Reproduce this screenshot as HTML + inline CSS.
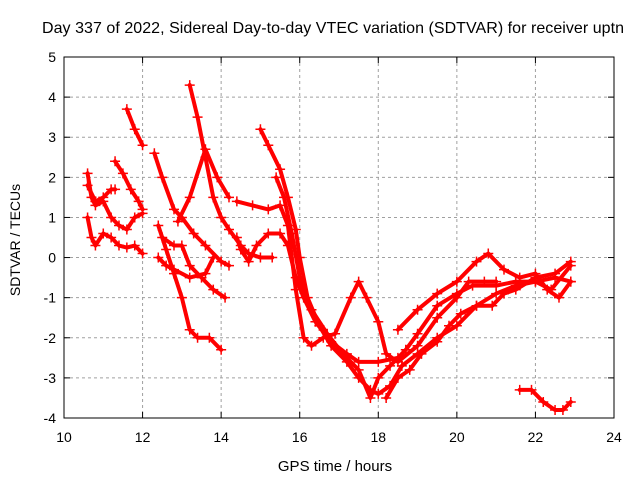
<!DOCTYPE html>
<html><head><meta charset="utf-8"><style>
body{margin:0;background:#fff;}
svg text{font-family:"Liberation Sans",sans-serif;}
</style></head><body>
<svg id="chart" width="640" height="480" xmlns="http://www.w3.org/2000/svg">
<text x="333" y="33" text-anchor="middle" font-size="16" textLength="582">Day 337 of 2022, Sidereal Day-to-day VTEC variation (SDTVAR) for receiver uptn</text>
<text x="335" y="471" text-anchor="middle" font-size="15">GPS time / hours</text>
<text x="20" y="240" text-anchor="middle" font-size="14" transform="rotate(-90 20 240)">SDTVAR / TECUs</text>
<g id="grid"></g><g id="ticks"></g><g id="series"></g>
<rect x="64" y="57" width="550" height="361" fill="none" stroke="#000" stroke-width="1"/>
</svg>
<script>
const xTicks=[10,12,14,16,18,20,22,24];
const yTicks=[-4,-3,-2,-1,0,1,2,3,4,5];
const tA=[[10.6,2.1],[10.7,1.5],[10.8,1.3],[11.0,1.4],[11.2,1.0],[11.4,0.8],[11.6,0.7],[11.8,1.0],[12.0,1.1]];
const tB=[[10.6,1.0],[10.7,0.5],[10.8,0.3],[11.0,0.6],[11.2,0.5],[11.4,0.3],[11.6,0.25],[11.8,0.3],[12.0,0.1]];
const tC=[[10.6,1.8],[10.8,1.4],[11.0,1.5],[11.2,1.7],[11.3,1.7]];
const tD=[[11.3,2.4],[11.5,2.1],[11.7,1.7],[11.9,1.4],[12.0,1.2]];
const tE=[[11.6,3.7],[11.8,3.2],[12.0,2.8]];
const tF=[[12.3,2.6],[12.5,2.0],[12.8,1.2],[13.0,1.0],[13.3,0.6],[13.6,0.3],[14.0,-0.1],[14.2,-0.2]];
const tG=[[12.4,0.8],[12.6,0.2],[12.8,-0.4],[13.0,-1.0],[13.2,-1.8],[13.4,-2.0],[13.7,-2.0],[14.0,-2.3]];
const tH=[[12.4,0.0],[12.6,-0.2],[12.8,-0.3],[13.2,-0.5],[13.6,-0.4],[13.8,0.0]];
const tI=[[12.5,0.5],[12.8,0.3],[13.0,0.3],[13.2,-0.2],[13.5,-0.5],[13.8,-0.8],[14.1,-1.0]];
const tJ=[[13.2,4.3],[13.4,3.5],[13.6,2.5],[13.8,1.5],[14.0,1.0],[14.2,0.7],[14.5,0.3],[14.7,0.1],[15.0,0.0],[15.3,0.0]];
const tK=[[12.9,0.9],[13.2,1.5],[13.6,2.7],[13.9,2.0],[14.2,1.5]];
const tL=[[14.4,0.5],[14.5,0.2],[14.7,-0.1],[14.9,0.3],[15.2,0.6],[15.5,0.6],[15.7,0.3],[15.9,-0.5],[16.1,-1.0],[16.4,-1.6],[16.8,-2.1],[17.2,-2.4],[17.5,-2.6],[18.0,-2.6],[18.5,-2.5]];
const tM=[[14.4,1.4],[14.8,1.3],[15.2,1.2],[15.5,1.3],[15.7,0.8],[15.9,-0.8],[16.1,-2.0],[16.3,-2.2],[16.6,-2.0],[16.9,-1.9],[17.3,-1.0],[17.5,-0.6],[17.7,-1.0],[18.0,-1.6],[18.2,-2.4],[18.5,-2.6],[19.0,-2.2],[19.5,-1.5],[20.0,-1.0],[20.3,-0.6],[20.7,-0.6],[21.0,-0.6]];
const tN=[[15.0,3.2],[15.2,2.8],[15.5,2.2],[15.7,1.5],[15.9,0.7],[16.0,0.0],[16.2,-1.0],[16.5,-1.7],[16.8,-2.2],[17.2,-2.6],[17.5,-3.0],[17.8,-3.3],[18.0,-3.4],[18.3,-3.2],[18.6,-2.7],[19.0,-2.4],[19.5,-2.0],[20.0,-1.7],[20.5,-1.2],[21.0,-0.9],[21.5,-0.7],[22.0,-0.6],[22.5,-0.5],[22.9,-0.6]];
const tO=[[15.4,2.0],[15.6,1.5],[15.8,0.6],[16.0,-0.5],[16.3,-1.3],[16.7,-1.9],[17.1,-2.4],[17.5,-2.8],[17.8,-3.5],[18.0,-3.0],[18.3,-2.7],[18.7,-2.3],[19.0,-1.9],[19.5,-1.2],[20.0,-0.9],[20.4,-0.7],[21.0,-0.7],[21.5,-0.6],[22.0,-0.6],[22.4,-0.8],[22.9,-0.2]];
const tP=[[18.2,-3.5],[18.5,-3.0],[18.8,-2.8],[19.1,-2.4],[19.5,-2.1],[19.8,-1.7],[20.1,-1.4],[20.5,-1.2],[20.9,-1.2],[21.2,-0.9],[21.5,-0.8],[22.0,-0.5],[22.5,-0.4],[22.9,-0.1]];
const tQ=[[18.5,-1.8],[19.0,-1.3],[19.5,-0.9],[20.0,-0.6],[20.5,-0.1],[20.8,0.1],[21.2,-0.3],[21.6,-0.5],[22.0,-0.4],[22.3,-0.8],[22.6,-1.0],[22.9,-0.6]];
const tR=[[21.6,-3.3],[21.9,-3.3],[22.2,-3.6],[22.5,-3.8],[22.7,-3.8],[22.9,-3.6]];
const traces=[tA,tB,tC,tD,tE,tF,tG,tH,tI,tJ,tK,tL,tM,tN,tO,tP,tQ,tR];
const NS="http://www.w3.org/2000/svg";
const X0=64,X1=614,Y0=418,Y1=57;
function sx(v){return X0+(v-10)/(24-10)*(X1-X0);}
function sy(v){return Y0-(v+4)/(5+4)*(Y0-Y1);}
const grid=document.getElementById('grid'),ticks=document.getElementById('ticks'),ser=document.getElementById('series');
function mk(tag,attrs,parent){const e=document.createElementNS(NS,tag);for(const k in attrs)e.setAttribute(k,attrs[k]);parent.appendChild(e);return e;}
xTicks.forEach(v=>{const x=sx(v);
 if(v>10&&v<24){const g=mk('line',{x1:x,x2:x,y1:Y1,y2:Y0,stroke:'#a0a0a0','stroke-dasharray':'3,3'},grid);
 
 }
 mk('line',{x1:x,x2:x,y1:Y0,y2:Y0-6,stroke:'#000'},ticks);mk('line',{x1:x,x2:x,y1:Y1,y2:Y1+6,stroke:'#000'},ticks);
 const t=mk('text',{x:x,y:Y0+24,'text-anchor':'middle','font-size':14},ticks);t.textContent=v;
 
 });
yTicks.forEach(v=>{const y=sy(v);
 if(v>-4&&v<5){const g=mk('line',{x1:X0,x2:X1,y1:y,y2:y,stroke:'#a0a0a0','stroke-dasharray':'3,3'},grid);
 
 }
 mk('line',{x1:X0,x2:X0+6,y1:y,y2:y,stroke:'#000'},ticks);mk('line',{x1:X1,x2:X1-6,y1:y,y2:y,stroke:'#000'},ticks);
 const t=mk('text',{x:X0-8,y:y+5,'text-anchor':'end','font-size':14},ticks);t.textContent=v;
 
 });
traces.forEach((tr,i)=>{
 const g=mk('g',{},ser);
 
 
 mk('polyline',{points:tr.map(p=>sx(p[0])+','+sy(p[1])).join(' '),fill:'none',stroke:'#ff0000','stroke-width':4,'stroke-linejoin':'round','stroke-linecap':'round'},g);
 tr.forEach(p=>{const x=sx(p[0]),y=sy(p[1]);
  mk('path',{d:`M${x-5},${y}h10M${x},${y-5}v10`,stroke:'#ff0000','stroke-width':1.5},g);});
});
</script>
</body></html>
